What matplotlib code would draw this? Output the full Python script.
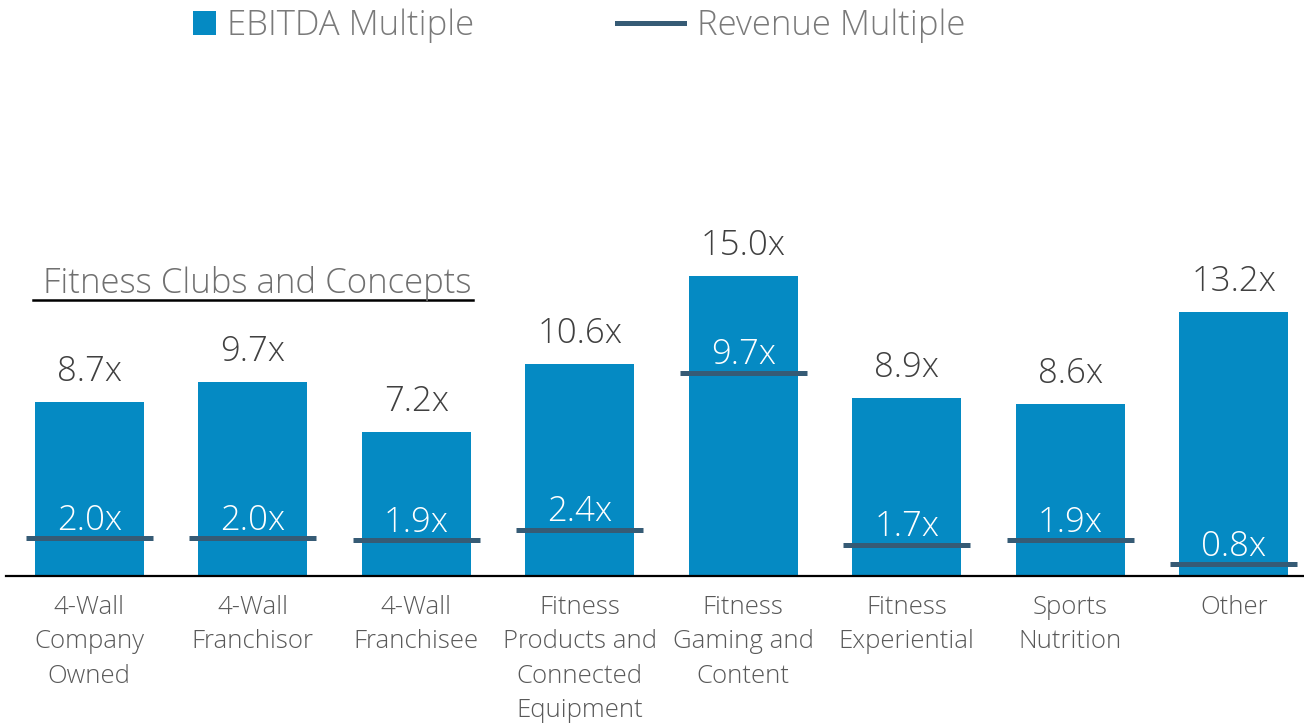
"""EBITDA / Revenue multiples by segment"""

import matplotlib
matplotlib.use("Agg")
import matplotlib.pyplot as plt
from matplotlib.lines import Line2D
from matplotlib.patches import Patch
import numpy as np

categories = [
    "4-Wall\nCompany\nOwned",
    "4-Wall\nFranchisor",
    "4-Wall\nFranchisee",
    "Fitness\nProducts and\nConnected\nEquipment",
    "Fitness\nGaming and\nContent",
    "Fitness\nExperiential",
    "Sports\nNutrition",
    "Other",
]
ebitda_multiple = [8.7, 9.7, 7.2, 10.6, 15.0, 8.9, 8.6, 13.2]
revenue_multiple = [2.0, 2.0, 1.9, 2.4, 9.7, 1.7, 1.9, 0.8]

BAR_COLOR = "#058ac3"
LINE_COLOR = "#365b75"
FONT = ["Open Sans", "DejaVu Sans"]

plt.rcParams["font.family"] = FONT
plt.rcParams["font.weight"] = "light"

W, H = 1304, 728
fig = plt.figure(figsize=(W / 100, H / 100), dpi=100)

# axes placed in pixel terms
ax_left, ax_right = 6, 1304
ax_bottom = 575.5
ax_height = 360
ax = fig.add_axes([ax_left / W, (H - ax_bottom) / H,
                   (ax_right - ax_left) / W, ax_height / H])
ax2 = ax.twinx()

x = np.arange(len(categories))
ax.bar(x, ebitda_multiple, width=0.667, color=BAR_COLOR, zorder=2)
ax.set_xlim(-0.509, 7.43)
ax.set_ylim(0, 18)
# revenue multiple sits on its own (secondary) scale
ax2.set_ylim(0.265, 17.01)

ax2.hlines(revenue_multiple, x - 0.388, x + 0.388, color=LINE_COLOR,
           linewidth=3.6, zorder=3)

for xi, v in zip(x, ebitda_multiple):
    ax.annotate(f"{v:.1f}x", (xi, v), xytext=(0, 14.5), textcoords="offset points",
                ha="center", va="baseline", fontsize=25, color="#404040")
for xi, v in zip(x, revenue_multiple):
    ax2.annotate(f"{v:.1f}x", (xi, v), xytext=(0, 6), textcoords="offset points",
                 ha="center", va="baseline", fontsize=25, color="white")

ax.set_xticks(x, categories)
ax.tick_params(axis="x", length=0, pad=14, labelsize=18.5, labelcolor="#595959")
for lbl in ax.get_xticklabels():
    lbl.set_linespacing(1.5)
ax.set_yticks([])
ax2.set_yticks([])
for side in ["top", "left", "right"]:
    ax.spines[side].set_visible(False)
    ax2.spines[side].set_visible(False)
ax2.spines["bottom"].set_visible(False)
ax.spines["bottom"].set_linewidth(1.6)
ax.spines["bottom"].set_color("black")

# section heading with underline
fig.text(42.7 / W, 1 - 292.7 / H, "Fitness Clubs and Concepts", fontsize=25,
         color="#707070", ha="left", va="baseline")
fig.add_artist(Line2D([33 / W, 473 / W], [1 - 299.5 / H, 1 - 299.5 / H],
                      color="black", linewidth=1.8))

# legend
leg1 = fig.legend([Patch(facecolor=BAR_COLOR)], ["EBITDA Multiple"],
                  loc="center left", bbox_to_anchor=(193 / W, 1 - 26 / H),
                  frameon=False, fontsize=25, handlelength=0.66, handleheight=0.66,
                  handletextpad=0.32, borderpad=0, borderaxespad=0)
leg2 = fig.legend([Line2D([0], [0], color=LINE_COLOR, linewidth=3.6)],
                  ["Revenue Multiple"],
                  loc="center left", bbox_to_anchor=(617 / W, 1 - 26 / H),
                  frameon=False, fontsize=25, handlelength=1.93,
                  handletextpad=0.37, borderpad=0, borderaxespad=0)
for leg in (leg1, leg2):
    for t in leg.get_texts():
        t.set_color("#7a7a7a")

fig.savefig("out.png", dpi=100)
